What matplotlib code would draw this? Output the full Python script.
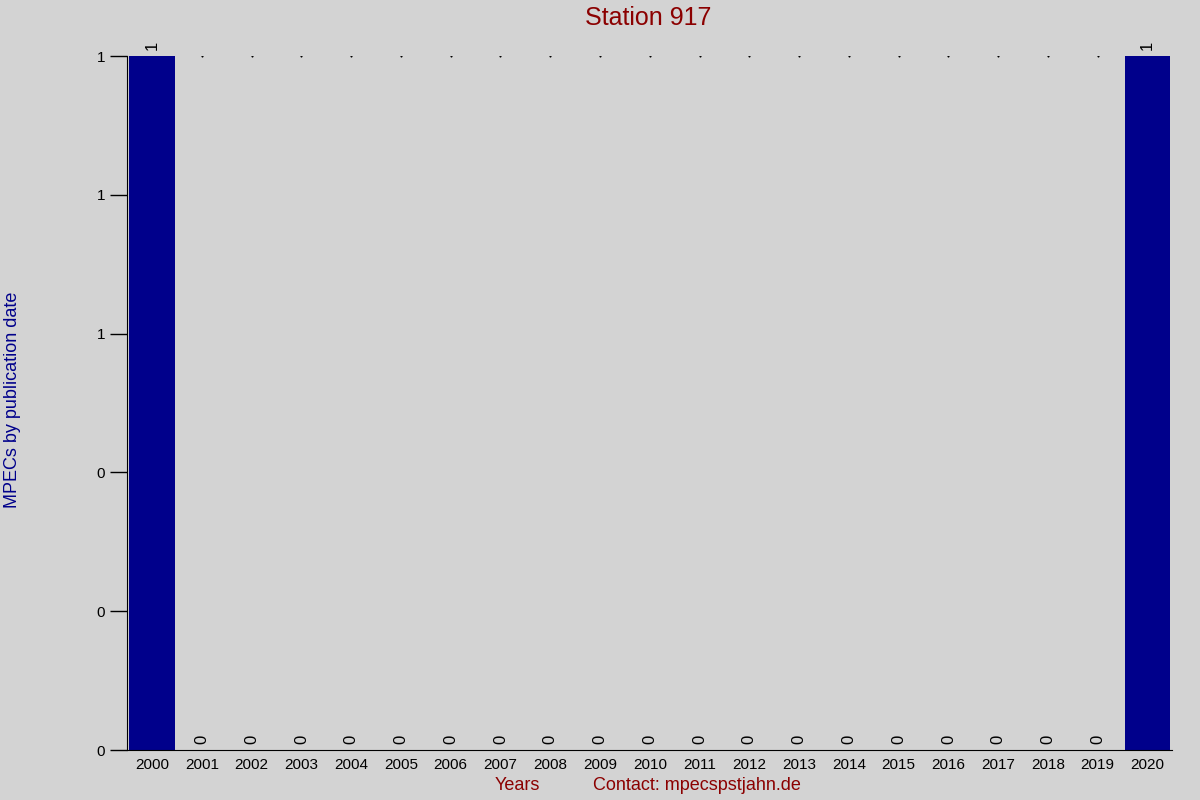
import matplotlib
matplotlib.use('Agg')
import matplotlib.pyplot as plt
from matplotlib.ticker import FormatStrFormatter

years = [str(y) for y in range(2000, 2021)]
counts = [1, 0, 0, 0, 0, 0, 0, 0, 0, 0, 0, 0, 0, 0, 0, 0, 0, 0, 0, 0, 1]

plt.rcParams['font.family'] = ['Liberation Sans', 'DejaVu Sans']
bg = '#d3d3d3'

fig = plt.figure(figsize=(12, 8), dpi=100, facecolor=bg)
ax = fig.add_axes([0.106, 0.0625, 0.871, 0.8675], facecolor=bg)

x = list(range(len(years)))
ax.bar(x, counts, width=0.92, color='#00008b', edgecolor='none')

top = max(counts)
for xi, v in zip(x, counts):
    ax.text(xi, v + top * 0.008, str(v), rotation=90, ha='center', va='bottom', fontsize=12)
    if v == 0:
        # tiny dot on the top line
        ax.plot(xi, top, marker='s', markersize=0.5, color='black')

ax.set_xlim(-0.5, len(years) - 0.5)
ax.set_ylim(0, top)
ax.set_xticks(x)
ax.set_xticklabels(years, fontsize=11)
ax.set_yticks([0, 0.2 * top, 0.4 * top, 0.6 * top, 0.8 * top, top])
ax.yaxis.set_major_formatter(FormatStrFormatter('%.0f'))
ax.tick_params(axis='y', labelsize=11, length=12, width=1, pad=4)
ax.tick_params(axis='x', length=0, pad=6)

for s in ['top', 'right']:
    ax.spines[s].set_visible(False)
ax.spines['left'].set_color('black')
ax.spines['bottom'].set_color('black')

fig.text(0.54, 0.977, 'Station 917', ha='center', va='center', fontsize=18, color='#8b0000')
fig.text(0.0105, 0.5, 'MPECs by publication date', rotation=90, ha='center', va='center',
         fontsize=13, color='#00008b')
fig.text(0.431, 0.018, 'Years', ha='center', va='center', fontsize=13, color='#8b0000')
fig.text(0.581, 0.018, 'Contact: mpecspstjahn.de', ha='center', va='center', fontsize=13, color='#8b0000')

fig.savefig('out.png', dpi=100, facecolor=bg)
